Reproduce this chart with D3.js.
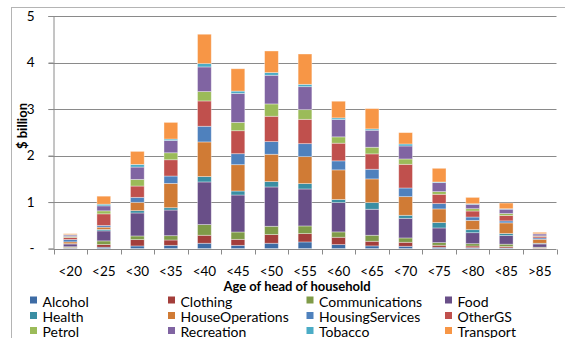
<!DOCTYPE html>
<html>
<head>
<meta charset="utf-8">
<script src="https://cdn.jsdelivr.net/npm/d3@7"></script>
<style>
  html, body { margin: 0; padding: 0; background: #fff; overflow: hidden; }
  svg { display: block; font-family: Lato, "Open Sans", "Liberation Sans", sans-serif; }
</style>
</head>
<body>
<svg id="chart" width="565" height="338"></svg>
<script>
// Age groups of the household head
const ages = ["<20", "<25", "<30", "<35", "<40", "<45", "<50", "<55", "<60", "<65", "<70", "<75", "<80", "<85", ">85"];

// Spending categories, bottom of the stack first
const categories = ["Alcohol", "Clothing", "Communications", "Food", "Health", "HouseOperations",
                    "HousingServices", "OtherGS", "Petrol", "Recreation", "Tobacco", "Transport"];

// Spending by category for each age group ($ billion)
const alcohol         = [0.01, 0.03, 0.057, 0.07, 0.115, 0.07, 0.115, 0.143, 0.086, 0.058, 0.05, 0.029, 0.02, 0.015, 0.005];
const clothing        = [0.015, 0.057, 0.136, 0.115, 0.172, 0.129, 0.186, 0.179, 0.158, 0.10, 0.086, 0.043, 0.036, 0.03, 0.01];
const communications  = [0.015, 0.079, 0.079, 0.093, 0.229, 0.158, 0.179, 0.165, 0.115, 0.129, 0.093, 0.057, 0.05, 0.05, 0.015];
const food            = [0.06, 0.215, 0.494, 0.551, 0.917, 0.795, 0.845, 0.795, 0.631, 0.559, 0.422, 0.315, 0.236, 0.186, 0.07];
const health          = [0.005, 0.03, 0.05, 0.05, 0.115, 0.086, 0.115, 0.115, 0.065, 0.143, 0.065, 0.115, 0.065, 0.043, 0.015];
const houseOperations = [0.04, 0.05, 0.179, 0.523, 0.745, 0.566, 0.588, 0.58, 0.637, 0.509, 0.401, 0.294, 0.20, 0.229, 0.085];
const housingServices = [0.05, 0.036, 0.107, 0.158, 0.337, 0.236, 0.272, 0.279, 0.194, 0.208, 0.186, 0.115, 0.072, 0.043, 0.03];
const otherGS         = [0.045, 0.25, 0.243, 0.35, 0.544, 0.494, 0.545, 0.523, 0.38, 0.33, 0.509, 0.20, 0.129, 0.115, 0.035];
const petrol          = [0.02, 0.065, 0.143, 0.15, 0.201, 0.179, 0.265, 0.208, 0.136, 0.143, 0.115, 0.057, 0.05, 0.043, 0.01];
const recreation      = [0.03, 0.107, 0.265, 0.265, 0.53, 0.623, 0.616, 0.494, 0.372, 0.365, 0.279, 0.193, 0.093, 0.093, 0.04];
const tobacco         = [0.01, 0.036, 0.057, 0.03, 0.072, 0.05, 0.057, 0.05, 0.036, 0.029, 0.043, 0.014, 0.014, 0.01, 0.005];
const transport       = [0.02, 0.172, 0.28, 0.358, 0.631, 0.48, 0.465, 0.652, 0.358, 0.437, 0.244, 0.294, 0.136, 0.122, 0.03];

const yTicks = [0, 1, 2, 3, 4, 5];

const seriesValues = [alcohol, clothing, communications, food, health, houseOperations,
                      housingServices, otherGS, petrol, recreation, tobacco, transport];

const colors = ["#3E6CA5", "#A33E3B", "#7F9B48", "#694F88", "#3A8EA3", "#D07B35",
                "#4F81BD", "#C0504D", "#9BBB59", "#8064A2", "#4BACC6", "#F79646"];

// Row objects for d3.stack
const rows = ages.map((a, i) => {
  const r = { age: a };
  categories.forEach((c, k) => { r[c] = seriesValues[k][i]; });
  return r;
});

const svg = d3.select("#chart");

// Chart frame
svg.append("rect")
  .attr("x", 11.5).attr("y", 7.5).attr("width", 700).attr("height", 500)
  .attr("fill", "none").attr("stroke", "#b4b4b4").attr("stroke-width", 1);

const plotLeft = 53.5, plotRight = 556.5, plotTop = 16, plotBottom = 248.6;

const xCat = d3.scaleBand().domain(ages).range([plotLeft, plotRight]).padding(0);
const x = d3.scaleBand().domain(ages).range([plotLeft, plotRight]).paddingInner(0.59).paddingOuter(0.295);
const y = d3.scaleLinear().domain([0, 5]).range([plotBottom, plotTop]);
const color = d3.scaleOrdinal().domain(categories).range(colors);

// Gridlines
svg.append("g")
  .selectAll("line")
  .data(yTicks.filter(d => d > 0))
  .join("line")
  .attr("x1", plotLeft - 5).attr("x2", plotRight)
  .attr("y1", d => Math.round(y(d)) + 0.5).attr("y2", d => Math.round(y(d)) + 0.5)
  .attr("stroke", "#8a8a8a").attr("stroke-width", 1);

// Y axis
const yAxis = svg.append("g")
  .attr("transform", `translate(${plotLeft},0)`)
  .call(d3.axisLeft(y).tickValues(yTicks).tickSize(5).tickPadding(14)
    .tickFormat(d => d === 0 ? "-" : d3.format("d")(d)));
yAxis.select(".domain").attr("stroke", "#8a8a8a");
yAxis.selectAll(".tick line").attr("stroke", "#8a8a8a");
yAxis.selectAll(".tick text").attr("font-size", 13.5).attr("fill", "#000")
  .attr("font-family", "Lato, sans-serif");

// Stacked bars
const stack = d3.stack().keys(categories)(rows);
svg.append("g")
  .selectAll("g")
  .data(stack)
  .join("g")
  .attr("fill", d => color(d.key))
  .selectAll("rect")
  .data(d => d)
  .join("rect")
  .attr("x", d => x(d.data.age))
  .attr("width", x.bandwidth())
  .attr("y", d => y(d[1]))
  .attr("height", d => y(d[0]) - y(d[1]))
  .attr("stroke", "#ffffff").attr("stroke-opacity", 0.45).attr("stroke-width", 0.8);

// X axis
const xAxisY = Math.round(plotBottom) + 0.5;
const xg = svg.append("g");
xg.append("line")
  .attr("x1", plotLeft).attr("x2", plotRight).attr("y1", xAxisY).attr("y2", xAxisY)
  .attr("stroke", "#8a8a8a");
xg.selectAll("line.tick")
  .data(ages.map(a => xCat(a)).concat([plotRight]))
  .join("line")
  .attr("class", "tick")
  .attr("x1", d => Math.round(d) + 0.5).attr("x2", d => Math.round(d) + 0.5)
  .attr("y1", xAxisY).attr("y2", xAxisY + 5)
  .attr("stroke", "#8a8a8a");
xg.selectAll("text")
  .data(ages)
  .join("text")
  .attr("x", d => xCat(d) + xCat.bandwidth() / 2)
  .attr("y", 275.5)
  .attr("text-anchor", "middle")
  .attr("font-size", 13.5)
  .text(d => d);

// Axis titles
svg.append("text")
  .attr("x", 297).attr("y", 291)
  .attr("text-anchor", "middle").attr("font-weight", "bold").attr("font-size", 13)
  .text("Age of head of household");

svg.append("text")
  .attr("transform", "translate(27,126) rotate(-90)")
  .attr("text-anchor", "middle").attr("font-weight", "bold").attr("font-size", 13)
  .text("$ billion");

// Legend: four columns, filled row by row
const legend = svg.append("g");
const colX = [30, 168, 306.5, 445];
const rowY = [306.5, 322, 337];
const items = legend.selectAll("g")
  .data(categories)
  .join("g")
  .attr("transform", (d, i) => `translate(${colX[i % 4]},${rowY[Math.floor(i / 4)]})`);
items.append("rect")
  .attr("x", 0).attr("y", -10).attr("width", 7).attr("height", 7)
  .attr("fill", d => color(d));
items.append("text")
  .attr("x", 12.5).attr("y", 0)
  .attr("font-size", 14)
  .text(d => d);
</script>
</body>
</html>
